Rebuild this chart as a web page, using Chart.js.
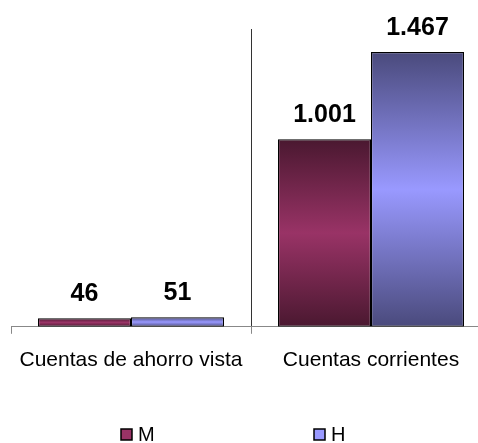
<!DOCTYPE html>
<html>
<head>
<meta charset="utf-8">
<script src="https://cdn.jsdelivr.net/npm/chart.js@4.4.0/dist/chart.umd.min.js"></script>
<style>
  html, body { margin: 0; padding: 0; background: #fff; }
  #wrap { width: 478px; height: 443px; overflow: hidden; }
</style>
</head>
<body>
<div id="wrap"><canvas id="chart" width="494" height="443"></canvas></div>
<script>
// Chart data
const categories = ['Cuentas de ahorro vista', 'Cuentas corrientes'];
const seriesNames = ['M', 'H'];
const valuesM = [46, 1001];
const valuesH = [51, 1467];

const FONT = "'Liberation Sans', Arial, sans-serif";

// Spanish thousands separator: 1467 -> 1.467
function formatValue(v) {
  return String(v).replace(/\B(?=(\d{3})+(?!\d))/g, '.');
}

// Vertical gradient per bar: dark - bright - dark
function barGradient(dark, bright) {
  return function(ctx) {
    const chart = ctx.chart;
    if (!chart.chartArea || ctx.raw === undefined) return bright;
    const yScale = chart.scales.y;
    const top = yScale.getPixelForValue(ctx.raw);
    const base = yScale.getPixelForValue(0);
    if (!isFinite(top) || !isFinite(base) || base - top < 1) return bright;
    const g = chart.ctx.createLinearGradient(0, top, 0, base);
    g.addColorStop(0, dark);
    g.addColorStop(0.5, bright);
    g.addColorStop(1, dark);
    return g;
  };
}

// Value labels above bars
const valueLabels = {
  id: 'valueLabels',
  afterDatasetsDraw(chart) {
    const c = chart.ctx;
    c.save();
    c.font = 'bold 25px ' + FONT;
    c.fillStyle = '#000';
    c.textAlign = 'center';
    c.textBaseline = 'alphabetic';
    chart.data.datasets.forEach((ds, i) => {
      chart.getDatasetMeta(i).data.forEach((bar, j) => {
        c.fillText(formatValue(ds.data[j]), bar.x, bar.y - 17);
      });
    });
    c.restore();
  }
};

// Legend at the bottom
const bottomLegend = {
  id: 'bottomLegend',
  afterDraw(chart) {
    const c = chart.ctx;
    const xs = [121, 314];
    const yMid = 434;
    c.save();
    c.font = '20px ' + FONT;
    c.textBaseline = 'middle';
    c.textAlign = 'left';
    chart.data.datasets.forEach((ds, i) => {
      const x = xs[i];
      c.fillStyle = ds.legendColor;
      c.fillRect(x, yMid - 5, 11, 11);
      c.strokeStyle = '#000';
      c.lineWidth = 1.5;
      c.strokeRect(x, yMid - 5, 11, 11);
      c.fillStyle = '#000';
      c.fillText(ds.label, x + 17, yMid + 1);
    });
    c.restore();
  }
};

new Chart(document.getElementById('chart'), {
  type: 'bar',
  data: {
    labels: categories,
    datasets: [
      {
        label: seriesNames[0],
        data: valuesM,
        backgroundColor: barGradient('#4a1830', '#993366'),
        legendColor: '#993366',
        borderColor: '#000',
        borderWidth: 1.2,
        borderSkipped: false,
        categoryPercentage: 0.775,
        barPercentage: 1.0
      },
      {
        label: seriesNames[1],
        data: valuesH,
        backgroundColor: barGradient('#4a4a7c', '#9999ff'),
        legendColor: '#9999ff',
        borderColor: '#000',
        borderWidth: 1.2,
        borderSkipped: false,
        categoryPercentage: 0.775,
        barPercentage: 1.0
      }
    ]
  },
  options: {
    responsive: false,
    animation: false,
    layout: {
      padding: { top: 29, left: 11, right: 3, bottom: 56 }
    },
    plugins: {
      legend: { display: false },
      tooltip: { enabled: false }
    },
    scales: {
      x: {
        offset: true,
        border: { display: true, color: '#888', width: 1 },
        grid: {
          offset: true,
          color: function(ctx) { return ctx.index === 1 ? '#333' : 'rgba(0,0,0,0)'; },
          tickColor: '#888',
          tickLength: 7,
          lineWidth: 1
        },
        ticks: {
          color: '#000',
          font: { family: FONT, size: 21 },
          padding: 14,
          maxRotation: 0,
          autoSkip: false
        }
      },
      y: {
        display: false,
        min: 0,
        max: 1590
      }
    }
  },
  plugins: [valueLabels, bottomLegend]
});
</script>
</body>
</html>
